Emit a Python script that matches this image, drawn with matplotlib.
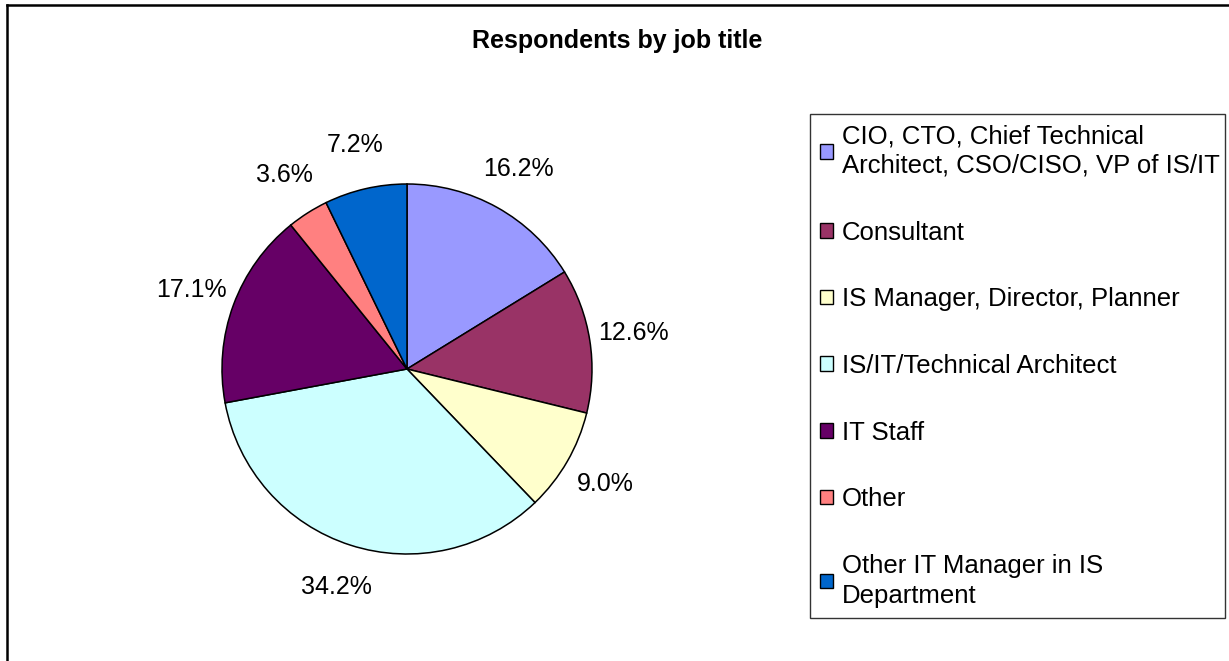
import matplotlib.pyplot as plt
from matplotlib.lines import Line2D

plt.rcParams['font.family'] = ['Liberation Sans', 'DejaVu Sans']

# survey answers, share of respondents in percent
titles = [
    "CIO, CTO, Chief Technical\nArchitect, CSO/CISO, VP of IS/IT",
    "Consultant",
    "IS Manager, Director, Planner",
    "IS/IT/Technical Architect",
    "IT Staff",
    "Other",
    "Other IT Manager in IS\nDepartment",
]
shares = [16.2, 12.6, 9.0, 34.2, 17.1, 3.6, 7.2]
colors = ["#9999FF", "#993366", "#FFFFCC", "#CCFFFF", "#660066", "#FF8080", "#0066CC"]

W, H = 1229, 661
fig = plt.figure(figsize=(W / 100, H / 100), dpi=100)

# chart frame, only the top and left edges fall inside the image
fig.add_artist(Line2D([7 / W, 7 / W], [0, 1 - 5 / H], transform=fig.transFigure,
                      color="black", lw=1.8))
fig.add_artist(Line2D([7 / W, 1], [1 - 5 / H, 1 - 5 / H], transform=fig.transFigure,
                      color="black", lw=1.8))

fig.text(617 / W, 1 - 41 / H, "Respondents by job title", ha="center", va="center",
         fontsize=18, fontweight="bold")

cx, cy, r = 407, 369, 185
ax = fig.add_axes([(cx - r) / W, (H - cy - r) / H, 2 * r / W, 2 * r / H])
wedges, _, pcts = ax.pie(shares, colors=colors, startangle=90, counterclock=False,
                         autopct="%.1f%%", pctdistance=1.24,
                         wedgeprops=dict(edgecolor="black", linewidth=1.1),
                         textprops=dict(fontsize=18))
ax.set_xlim(-1, 1)
ax.set_ylim(-1, 1)
ax.set_aspect("equal")
ax.axis("off")

leg = fig.legend(wedges, titles, loc="upper left",
                 bbox_to_anchor=(810 / W, 1 - 621 / H, 415 / W, 507 / H),
                 mode="expand", fontsize=18.5, frameon=True, fancybox=False,
                 edgecolor="#333333", framealpha=1, borderaxespad=0,
                 handlelength=0.5, handleheight=0.5, handletextpad=0.35,
                 labelspacing=1.66, borderpad=0.4)
leg.get_frame().set_linewidth(1.0)
for t in leg.get_texts():
    t.set_linespacing(1.3)
for h in leg.legend_handles:
    h.set_edgecolor("black")
    h.set_linewidth(1.0)

fig.savefig("out.png", dpi=100)
